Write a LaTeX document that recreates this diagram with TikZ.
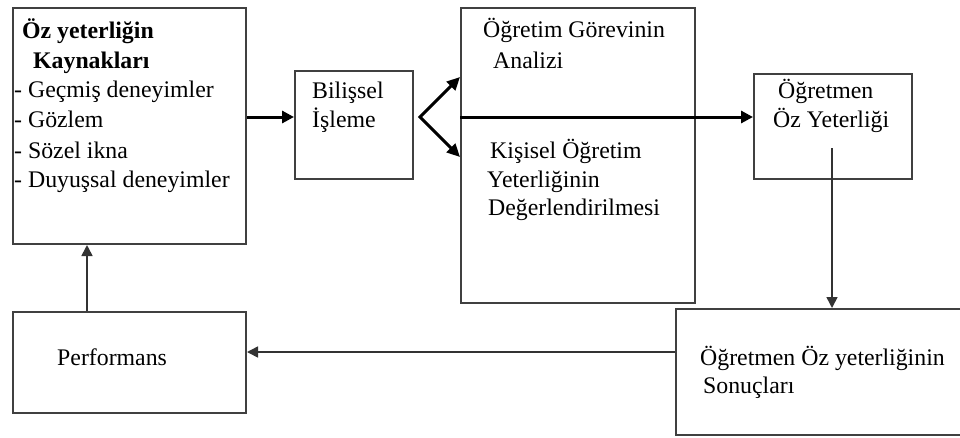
\documentclass[tikz,border=0pt]{standalone}
\usepackage{fontspec}
\setmainfont{Liberation Serif}
\usetikzlibrary{arrows.meta}
\begin{document}
\begin{tikzpicture}[x=1pt,y=-1pt,
  box/.style={draw=black!75,line width=2pt,inner sep=0pt,anchor=north west},
  txt/.style={inner sep=0pt,anchor=base west,font=\fontsize{23.8}{28}\selectfont},
  btxt/.style={txt,font=\fontsize{23.8}{28}\selectfont\bfseries},
  thickarrow/.style={line width=3pt,-{Triangle[length=12pt,width=12pt]}},
  fork/.style={line width=3pt,{Triangle[length=13pt,width=12pt]}-{Triangle[length=13pt,width=12pt]}},
  thinarrow/.style={draw=black!80,line width=1.6pt,-{Triangle[length=11pt,width=11pt]}}]
\useasboundingbox (0,0) rectangle (960,437);
\clip (0,0) rectangle (960,437);
% boxes
\node[box,minimum width=233pt,minimum height=236pt] (A) at (12,7) {};
\node[box,minimum width=118pt,minimum height=108pt] (B) at (294,70) {};
\node[box,minimum width=234pt,minimum height=295pt] (C) at (460,7) {};
\node[box,minimum width=158pt,minimum height=105pt] (D) at (753,73) {};
\node[box,minimum width=300pt,minimum height=126pt] (E) at (675,308) {};
\node[box,minimum width=233pt,minimum height=101pt] (P) at (12,311) {};
% texts
\node[btxt] (a1) at (22,38) {Öz yeterliğin};
\node[btxt] (a2) at (33,68) {Kaynakları};
\node[txt] (a3) at (14,97) {- Geçmiş deneyimler};
\node[txt] (a4) at (14,127) {- Gözlem};
\node[txt] (a5) at (14,158) {- Sözel ikna};
\node[txt] (a6) at (14,187) {- Duyuşsal deneyimler};
\node[txt] (b1) at (312,98) {Bilişsel};
\node[txt] (b2) at (312,127) {İşleme};
\node[txt] (c1) at (483,37) {Öğretim Görevinin};
\node[txt] (c2) at (493,68) {Analizi};
\node[txt] (c3) at (490,158) {Kişisel Öğretim};
\node[txt] (c4) at (487,187) {Yeterliğinin};
\node[txt] (c5) at (488,215) {Değerlendirilmesi};
\node[txt] (d1) at (778,98) {Öğretmen};
\node[txt] (d2) at (773,127) {Öz Yeterliği};
\node[txt] (e1) at (700,365) {Öğretmen Öz yeterliğinin};
\node[txt] (e2) at (703,393) {Sonuçları};
\node[txt] (p1) at (57,365) {Performans};
% connectors
\coordinate (forkL) at (420,117);
\coordinate (cup) at (459,77);
\coordinate (clow) at (459,157);
\coordinate (dstart) at (832,148);
\coordinate (ey) at (0,352);
\coordinate (px) at (87,0);
\draw[thickarrow] (A.east |- forkL) -- (B.west |- forkL);
\draw[fork,line join=miter] (C.west |- cup) -- (forkL) -- (C.west |- clow);
\draw[thickarrow] (C.west |- forkL) -- (D.west |- forkL);
\draw[thinarrow] (dstart) -- (E.north -| dstart);
\draw[thinarrow] (E.west |- ey) -- (P.east |- ey);
\draw[thinarrow] (P.north -| px) -- (A.south -| px);
\end{tikzpicture}
\end{document}
